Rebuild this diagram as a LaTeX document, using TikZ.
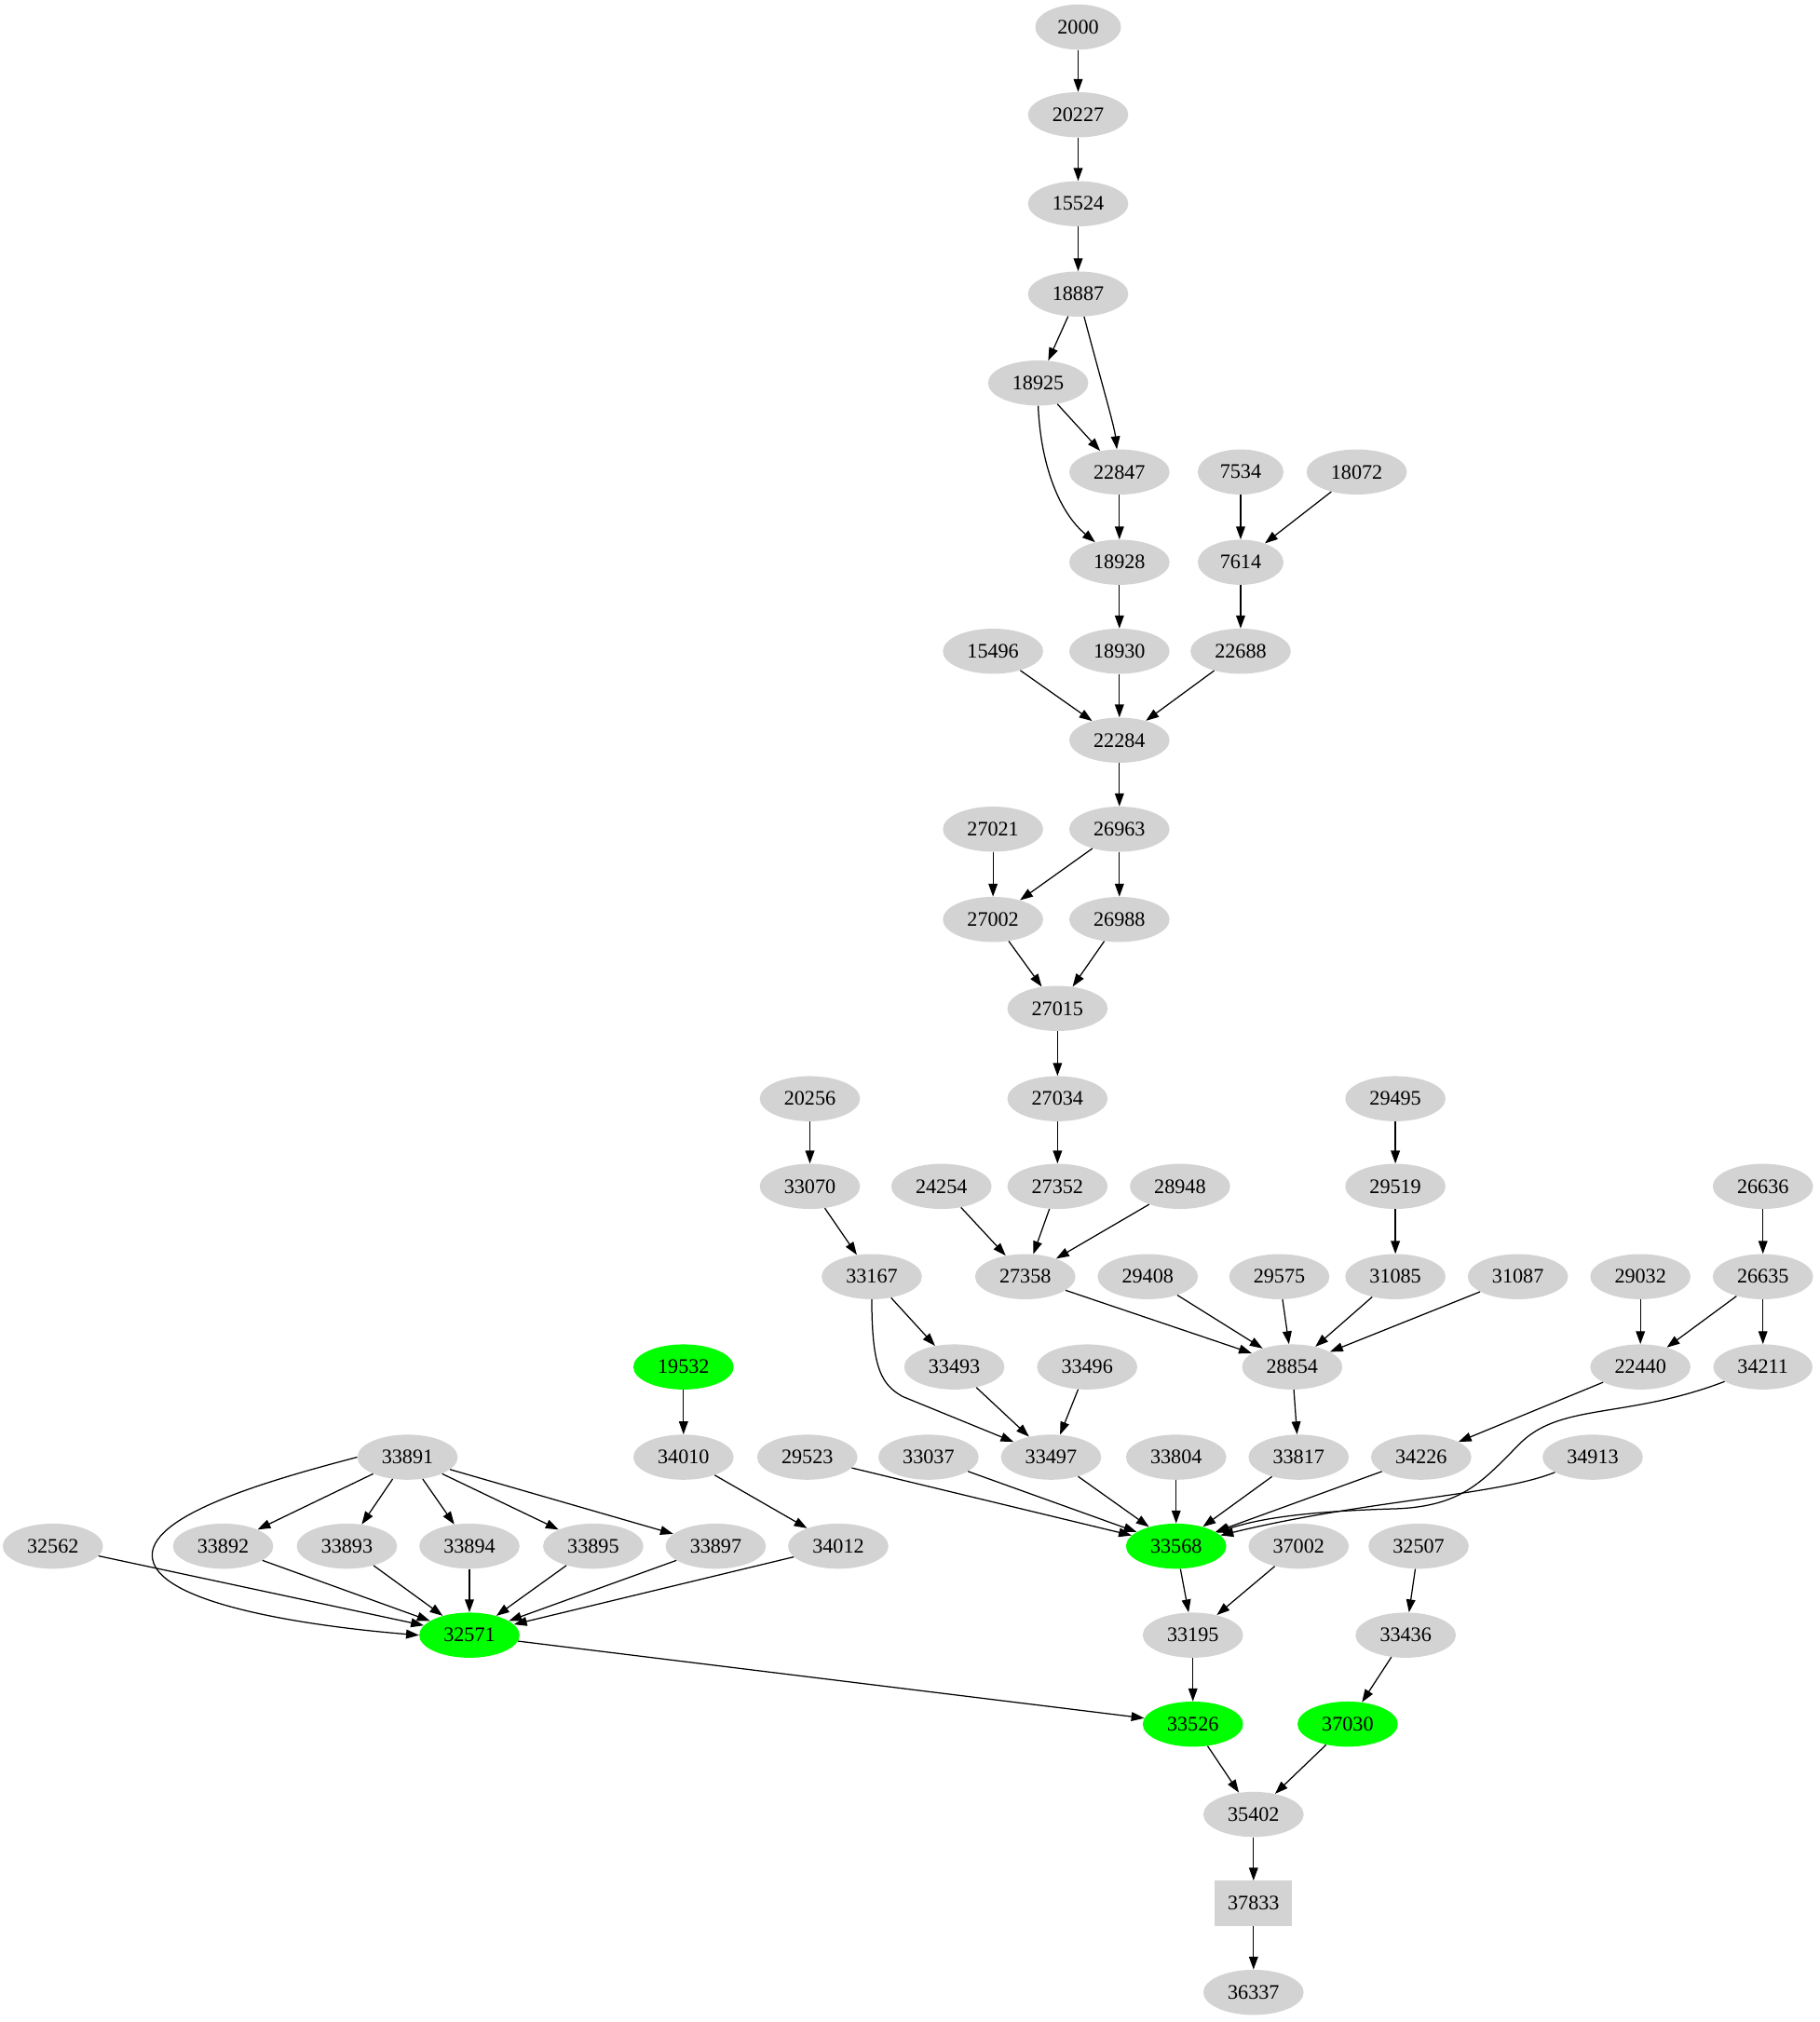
\documentclass[tikz,border=0pt]{standalone}
\usepackage{fontspec}
\setmainfont{Liberation Serif}
\usepackage{tikz}
\usetikzlibrary{arrows.meta,shapes.geometric}

\definecolor{gvgray}{HTML}{D3D3D3}
\definecolor{gvgreen}{HTML}{00FF00}

\begin{document}
\begin{tikzpicture}[x=1pt, y=-1pt,
  every node/.style={font=\fontsize{16}{18}\selectfont},
  gnode/.style={ellipse, fill=gvgray, inner xsep=7.5pt, inner ysep=2pt, minimum height=35pt},
  hit/.style={gnode, fill=gvgreen},
  boxnode/.style={rectangle, fill=gvgray, minimum width=60pt, minimum height=35pt},
  edge/.style={-{Triangle[length=10pt,width=7pt]}, line width=0.9pt}]
  \useasboundingbox (0,0) rectangle (1411,1568);

  % top chain
  \node[gnode] (n2000)  at (836,21)  {2000};
  \node[gnode] (n20227) at (836,89)  {20227};
  \node[gnode] (n15524) at (836,158) {15524};
  \node[gnode] (n18887) at (836,228) {18887};
  \node[gnode] (n18925) at (805,297) {18925};
  \node[gnode] (n22847) at (868,366) {22847};
  \node[gnode] (n7534)  at (962,366) {7534};
  \node[gnode] (n18072) at (1052,366) {18072};
  \node[gnode] (n18928) at (868,436) {18928};
  \node[gnode] (n7614)  at (962,436) {7614};
  \node[gnode] (n15496) at (770,505) {15496};
  \node[gnode] (n18930) at (868,505) {18930};
  \node[gnode] (n22688) at (962,505) {22688};
  \node[gnode] (n22284) at (868,574) {22284};
  \node[gnode] (n27021) at (770,643) {27021};
  \node[gnode] (n26963) at (868,643) {26963};
  \node[gnode] (n27002) at (770,713) {27002};
  \node[gnode] (n26988) at (868,713) {26988};
  \node[gnode] (n27015) at (820,782) {27015};

  % middle
  \node[gnode] (n20256) at (628,852)  {20256};
  \node[gnode] (n27034) at (820,852)  {27034};
  \node[gnode] (n29495) at (1082,852) {29495};
  \node[gnode] (n33070) at (628,920)  {33070};
  \node[gnode] (n24254) at (730,920)  {24254};
  \node[gnode] (n27352) at (820,920)  {27352};
  \node[gnode] (n28948) at (915,920)  {28948};
  \node[gnode] (n29519) at (1082,920) {29519};
  \node[gnode] (n26636) at (1367,920) {26636};
  \node[gnode] (n33167) at (676,990)  {33167};
  \node[gnode] (n27358) at (795,990)  {27358};
  \node[gnode] (n29408) at (890,990)  {29408};
  \node[gnode] (n29575) at (992,990)  {29575};
  \node[gnode] (n31085) at (1082,990) {31085};
  \node[gnode] (n31087) at (1177,990) {31087};
  \node[gnode] (n29032) at (1272,990) {29032};
  \node[gnode] (n26635) at (1367,990) {26635};
  \node[hit]   (n19532) at (530,1060)  {19532};
  \node[gnode] (n33493) at (740,1060)  {33493};
  \node[gnode] (n33496) at (843,1060)  {33496};
  \node[gnode] (n28854) at (1002,1060) {28854};
  \node[gnode] (n22440) at (1272,1060) {22440};
  \node[gnode] (n34211) at (1367,1060) {34211};

  % lower rows
  \node[gnode] (n33891) at (316,1130)  {33891};
  \node[gnode] (n34010) at (530,1130)  {34010};
  \node[gnode] (n29523) at (626,1130)  {29523};
  \node[gnode] (n33037) at (720,1130)  {33037};
  \node[gnode] (n33497) at (815,1130)  {33497};
  \node[gnode] (n33804) at (912,1130)  {33804};
  \node[gnode] (n33817) at (1007,1130) {33817};
  \node[gnode] (n34226) at (1102,1130) {34226};
  \node[gnode] (n34913) at (1235,1130) {34913};
  \node[gnode] (n32562) at (41,1199)   {32562};
  \node[gnode] (n33892) at (173,1199)  {33892};
  \node[gnode] (n33893) at (269,1199)  {33893};
  \node[gnode] (n33894) at (364,1199)  {33894};
  \node[gnode] (n33895) at (460,1199)  {33895};
  \node[gnode] (n33897) at (555,1199)  {33897};
  \node[gnode] (n34012) at (650,1199)  {34012};
  \node[hit]   (n33568) at (912,1199)  {33568};
  \node[gnode] (n37002) at (1007,1199) {37002};
  \node[gnode] (n32507) at (1100,1199) {32507};
  \node[hit]   (n32571) at (364,1268)  {32571};
  \node[gnode] (n33195) at (925,1268)  {33195};
  \node[gnode] (n33436) at (1090,1268) {33436};
  \node[hit]   (n33526) at (925,1337)  {33526};
  \node[hit]   (n37030) at (1045,1337) {37030};
  \node[gnode] (n35402) at (972,1407)  {35402};
  \node[boxnode] (n37833) at (972,1476) {37833};
  \node[gnode] (n36337) at (972,1545)  {36337};

  % edges
  \draw[edge] (n2000) -- (n20227);
  \draw[edge] (n20227) -- (n15524);
  \draw[edge] (n15524) -- (n18887);
  \draw[edge] (n18887) -- (n18925);
  \draw[edge] (n18887) .. controls (855,300) and (864,330) .. (n22847);
  \draw[edge] (n18925) -- (n22847);
  \draw[edge] (n18925.south) .. controls (807,362) and (822,398) .. (n18928);
  \draw[edge] (n22847) -- (n18928);
  \draw[edge] (n7534) -- (n7614);
  \draw[edge] (n18072) -- (n7614);
  \draw[edge] (n18928) -- (n18930);
  \draw[edge] (n7614) -- (n22688);
  \draw[edge] (n15496) -- (n22284);
  \draw[edge] (n18930) -- (n22284);
  \draw[edge] (n22688) -- (n22284);
  \draw[edge] (n22284) -- (n26963);
  \draw[edge] (n27021) -- (n27002);
  \draw[edge] (n26963) -- (n27002);
  \draw[edge] (n26963) -- (n26988);
  \draw[edge] (n27002) -- (n27015);
  \draw[edge] (n26988) -- (n27015);
  \draw[edge] (n27015) -- (n27034);
  \draw[edge] (n27034) -- (n27352);
  \draw[edge] (n20256) -- (n33070);
  \draw[edge] (n33070) -- (n33167);
  \draw[edge] (n24254) -- (n27358);
  \draw[edge] (n27352) -- (n27358);
  \draw[edge] (n28948) -- (n27358);
  \draw[edge] (n29495) -- (n29519);
  \draw[edge] (n29519) -- (n31085);
  \draw[edge] (n26636) -- (n26635);
  \draw[edge] (n33167) -- (n33493);
  \draw[edge] (n33167.south) .. controls (676,1062) and (684,1074) .. (700,1083) -- (n33497);
  \draw[edge] (n27358) -- (n28854);
  \draw[edge] (n29408) -- (n28854);
  \draw[edge] (n29575) -- (n28854);
  \draw[edge] (n31085) -- (n28854);
  \draw[edge] (n31087) -- (n28854);
  \draw[edge] (n29032) -- (n22440);
  \draw[edge] (n26635) -- (n22440);
  \draw[edge] (n26635) -- (n34211);
  \draw[edge] (n19532) -- (n34010);
  \draw[edge] (n33493) -- (n33497);
  \draw[edge] (n33496) -- (n33497);
  \draw[edge] (n28854) -- (n33817);
  \draw[edge] (n22440) -- (n34226);
  \draw[edge] (n34010) -- (n34012);
  \draw[edge] (n29523) -- (n33568);
  \draw[edge] (n33037) -- (n33568);
  \draw[edge] (n33497) -- (n33568);
  \draw[edge] (n33804) -- (n33568);
  \draw[edge] (n33817) -- (n33568);
  \draw[edge] (n34226) -- (n33568);
  \draw[edge] (n34211) .. controls (1262,1100) and (1212,1088) .. (1180,1118)
    .. controls (1150,1148) and (1135,1168) .. (1082,1170)
    .. controls (1010,1172) and (975,1178) .. (n33568);
  \draw[edge] (n34913) .. controls (1160,1160) and (1060,1163) .. (n33568);
  \draw[edge] (n33891) -- (n33892);
  \draw[edge] (n33891) -- (n33893);
  \draw[edge] (n33891) -- (n33894);
  \draw[edge] (n33891) -- (n33895);
  \draw[edge] (n33891) -- (n33897);
  \draw[edge] (n33891.west) .. controls (200,1150) and (120,1175) .. (118,1205)
    .. controls (116,1245) and (250,1262) .. (n32571.west);
  \draw[edge] (n32562) -- (n32571);
  \draw[edge] (n33892) -- (n32571);
  \draw[edge] (n33893) -- (n32571);
  \draw[edge] (n33894) -- (n32571);
  \draw[edge] (n33895) -- (n32571);
  \draw[edge] (n33897) -- (n32571);
  \draw[edge] (n34012) -- (n32571);
  \draw[edge] (n33568) -- (n33195);
  \draw[edge] (n37002) -- (n33195);
  \draw[edge] (n32507) -- (n33436);
  \draw[edge] (n32571) -- (n33526);
  \draw[edge] (n33195) -- (n33526);
  \draw[edge] (n33436) -- (n37030);
  \draw[edge] (n33526) -- (n35402);
  \draw[edge] (n37030) -- (n35402);
  \draw[edge] (n35402) -- (n37833);
  \draw[edge] (n37833) -- (n36337);
\end{tikzpicture}
\end{document}
